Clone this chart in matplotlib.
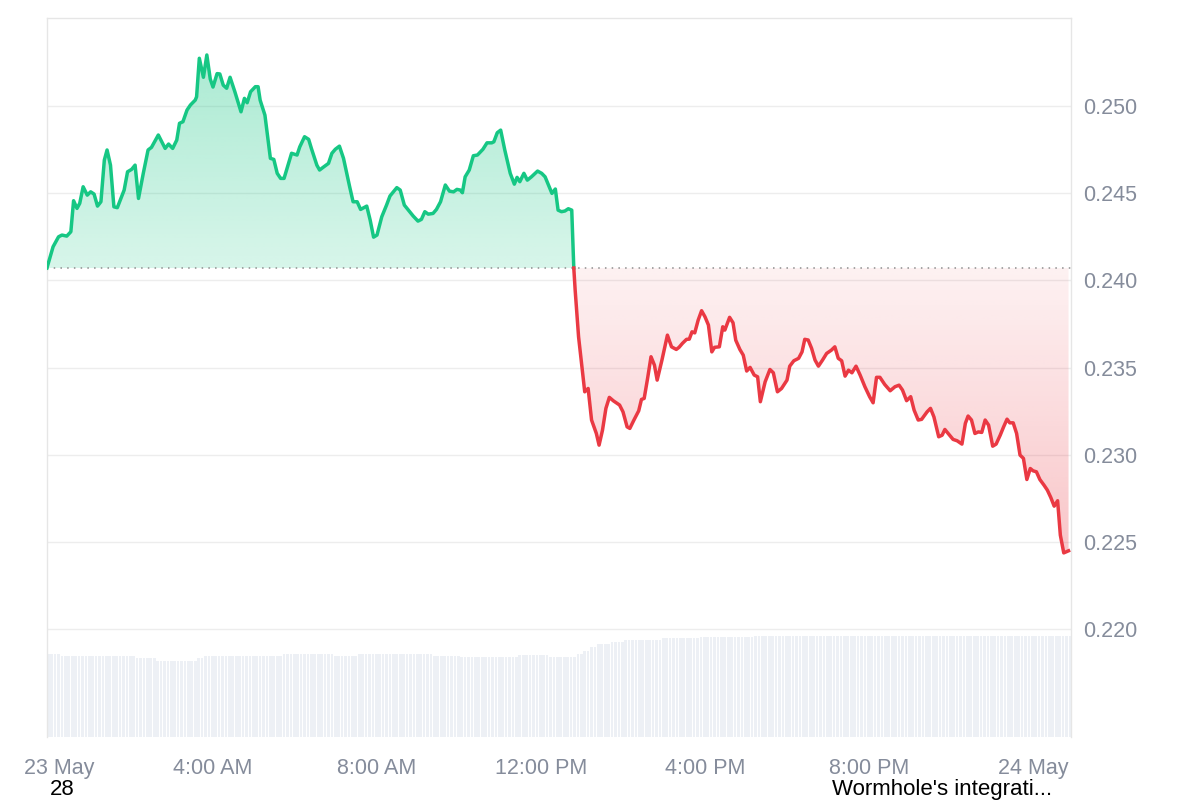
import numpy as np
import matplotlib
matplotlib.use("Agg")
import matplotlib.pyplot as plt
import matplotlib.colors as mcolors
from matplotlib.patches import Polygon
from matplotlib.transforms import ScaledTranslation

# minutes after 23 May 00:00
t_min = [-3, 6, 14, 19, 26, 32, 36, 41, 45, 50, 56, 61, 66, 71, 76, 81, 85, 90, 95, 100,
         110, 115, 121, 126, 131, 138, 145, 150, 160, 170, 175, 181, 187, 191, 196, 202, 207, 214, 216, 220,
         226, 231, 236, 240, 246, 250, 255, 260, 265, 272, 281, 286, 290, 295, 302, 306, 309, 316, 324, 329,
         334, 339, 344, 355, 363, 367, 374, 380, 384, 392, 396, 401, 409, 414, 419, 425, 431, 440, 445, 451,
         456, 465, 470, 475, 480, 487, 494, 499, 504, 509, 514, 520, 526, 533, 540, 545, 550, 555, 562, 567,
         573, 580, 586, 592, 597, 602, 605, 609, 615, 621, 627, 635, 641, 648, 651, 656, 661, 667, 675, 681,
         685, 689, 695, 700, 706, 715, 721, 726, 731, 736, 741, 745, 750, 755, 760, 765, 768,
         770, 775, 780, 784, 789, 794, 801, 805, 810, 815, 820, 826, 835, 840, 846, 850, 856, 863, 867, 871,
         876, 881, 886, 890, 897, 905, 911, 918, 922, 927, 933, 937, 941, 945, 950, 955, 960, 965, 970, 974,
         981, 986, 989, 996, 1001, 1005, 1011, 1016, 1021, 1026, 1032, 1037, 1041, 1048, 1055, 1060, 1066, 1072, 1080, 1084,
         1090, 1097, 1102, 1106, 1111, 1116, 1121, 1126, 1132, 1138, 1145, 1150, 1155, 1160, 1165, 1170, 1175, 1181, 1187, 1194,
         1201, 1206, 1211, 1216, 1223, 1231, 1238, 1244, 1249, 1255, 1261, 1266, 1272, 1277, 1285, 1290, 1295, 1302, 1307, 1311,
         1318, 1323, 1329, 1336, 1341, 1345, 1350, 1355, 1360, 1365, 1370, 1375, 1381, 1386, 1392, 1397, 1402, 1406, 1411, 1416,
         1421, 1426, 1431, 1436, 1440, 1445, 1450, 1456, 1461, 1466, 1471, 1476, 1480, 1485, 1492]

price = [0.24071, 0.24193, 0.24250, 0.24260, 0.24254, 0.24279, 0.24457, 0.24413, 0.24442, 0.24537,
         0.24489, 0.24508, 0.24495, 0.24426, 0.24451, 0.24690, 0.24748, 0.24661, 0.24422, 0.24417,
         0.24518, 0.24623, 0.24637, 0.24661, 0.24470, 0.24614, 0.24748, 0.24763, 0.24834, 0.24757,
         0.24782, 0.24757, 0.24805, 0.24901, 0.24910, 0.24977, 0.25006, 0.25034, 0.25053, 0.25274,
         0.25165, 0.25293, 0.25155, 0.25109, 0.25186, 0.25184, 0.25120, 0.25102, 0.25165, 0.25082,
         0.24967, 0.25044, 0.25019, 0.25082, 0.25111, 0.25111, 0.25034, 0.24948, 0.24700, 0.24694,
         0.24614, 0.24585, 0.24585, 0.24729, 0.24719, 0.24766, 0.24824, 0.24809, 0.24757, 0.24661,
         0.24633, 0.24648, 0.24671, 0.24729, 0.24752, 0.24770, 0.24700, 0.24537, 0.24451, 0.24451,
         0.24407, 0.24426, 0.24346, 0.24248, 0.24260, 0.24365, 0.24432, 0.24484, 0.24508, 0.24532,
         0.24518, 0.24432, 0.24403, 0.24369, 0.24340, 0.24350, 0.24394, 0.24380, 0.24384, 0.24407,
         0.24451, 0.24547, 0.24512, 0.24508, 0.24522, 0.24518, 0.24503, 0.24594, 0.24633, 0.24715,
         0.24719, 0.24752, 0.24789, 0.24789, 0.24795, 0.24847, 0.24862, 0.24748, 0.24614, 0.24552,
         0.24591, 0.24566, 0.24614, 0.24575, 0.24594, 0.24627, 0.24614, 0.24594, 0.24547, 0.24499,
         0.24524, 0.24403, 0.24394, 0.24398, 0.24411, 0.24403, 0.24071,
         0.23944, 0.23676, 0.23504, 0.23361, 0.23380, 0.23199, 0.23122, 0.23055, 0.23141, 0.23266,
         0.23329, 0.23309, 0.23285, 0.23246, 0.23160, 0.23151, 0.23199, 0.23252, 0.23317, 0.23323,
         0.23438, 0.23562, 0.23514, 0.23428, 0.23543, 0.23686, 0.23619, 0.23604, 0.23616, 0.23639,
         0.23662, 0.23663, 0.23705, 0.23699, 0.23772, 0.23826, 0.23791, 0.23744, 0.23590, 0.23616,
         0.23619, 0.23734, 0.23715, 0.23788, 0.23757, 0.23657, 0.23604, 0.23571, 0.23480, 0.23501,
         0.23457, 0.23447, 0.23304, 0.23418, 0.23489, 0.23470, 0.23361, 0.23380, 0.23428, 0.23508,
         0.23539, 0.23553, 0.23590, 0.23662, 0.23658, 0.23610, 0.23543, 0.23508, 0.23543, 0.23581,
         0.23600, 0.23619, 0.23553, 0.23539, 0.23451, 0.23485, 0.23470, 0.23508, 0.23457, 0.23390,
         0.23332, 0.23298, 0.23444, 0.23444, 0.23403, 0.23367, 0.23390, 0.23399, 0.23371, 0.23310,
         0.23333, 0.23256, 0.23199, 0.23203, 0.23246, 0.23266, 0.23217, 0.23103, 0.23112, 0.23145,
         0.23112, 0.23088, 0.23080, 0.23061, 0.23180, 0.23222, 0.23199, 0.23122, 0.23131, 0.23128,
         0.23199, 0.23170, 0.23049, 0.23061, 0.23112, 0.23160, 0.23204, 0.23183, 0.23183, 0.23122,
         0.22998, 0.22979, 0.22858, 0.22921, 0.22908, 0.22902, 0.22858, 0.22826, 0.22797, 0.22755,
         0.22705, 0.22736, 0.22539, 0.22437, 0.22449]

# volume (rolling, arbitrary units) read as steps: level until minute
vol_until = [14, 127, 158, 214, 228, 343, 416, 449, 560, 603, 685, 729, 771, 780, 792, 802,
             821, 840, 896, 953, 1030, 1500]
vol_level = [30.6, 30.0, 29.4, 28.2, 29.2, 30.0, 30.6, 30.0, 30.6, 30.0, 29.5, 30.2, 29.6, 30.6,
             31.8, 33.2, 34.5, 35.3, 35.8, 36.5, 36.9, 37.4]

tick_min = [0, 240, 480, 720, 960, 1200, 1440]
tick_lab = ["23 May", "4:00 AM", "8:00 AM", "12:00 PM", "4:00 PM", "8:00 PM", "24 May"]
price_ticks = [0.220, 0.225, 0.230, 0.235, 0.240, 0.245, 0.250]
notes = [(50, "28"), (832, "Wormhole's integrati...")]

green = "#16c784"
red = "#ea3943"
grey = "#858c9b"

plt.rcParams["font.family"] = ["Liberation Sans", "DejaVu Sans"]

t = np.array(t_min, dtype=float)
p = np.array(price)
base = p[0]
k = int(np.where(t == 768)[0][0])


def gradient_fill(ax, tt, pp, base, color, a_near, a_far):
    far = pp.max() if pp.max() > base else pp.min()
    verts = [(tt[0], base)] + list(zip(tt, pp)) + [(tt[-1], base)]
    poly = Polygon(verts, closed=True, facecolor="none", edgecolor="none")
    ax.add_patch(poly)
    z = np.zeros((200, 1, 4))
    z[:, :, :3] = mcolors.to_rgb(color)
    z[:, 0, 3] = np.linspace(a_near, a_far, 200)
    im = ax.imshow(z, aspect="auto", origin="lower", extent=[tt[0], tt[-1], base, far],
                   interpolation="bilinear", zorder=1)
    im.set_clip_path(poly)


fig = plt.figure(figsize=(12, 8), dpi=100)
ax = fig.add_axes([47/1200, 63/800, 1024/1200, 719/800])

# volume bars on a second scale, under the price
vx = ax.twinx()
bar_t = np.arange(-1, 1495, 5)
bar_v = np.array(vol_level)[np.searchsorted(vol_until, bar_t)]
vx.bar(bar_t, bar_v, width=3.9, color="#edf0f5", lw=0, zorder=0)
vx.set_ylim(0, 266)
vx.set_yticks([])
for s in vx.spines.values():
    s.set_visible(False)
ax.set_zorder(vx.get_zorder() + 1)
ax.patch.set_visible(False)

gradient_fill(ax, t[:k+1], p[:k+1], base, green, 0.17, 0.36)
gradient_fill(ax, t[k:], p[k:], base, red, 0.07, 0.29)

ax.plot(t[:k+1], p[:k+1], color=green, lw=2.5, solid_joinstyle="round", zorder=4)
ax.plot(t[k:], p[k:], color=red, lw=2.5, solid_joinstyle="round", zorder=4)
ax.axhline(base, color="#8d8d8d", lw=1.1, ls=(0, (1, 3.4)), zorder=3)

ax.set_xlim(-2.9, 1495.6)
vx.set_xlim(-2.9, 1495.6)
ax.set_ylim(0.21381, 0.25505)
ax.set_yticks(price_ticks)
ax.set_yticklabels(["%.3f" % v for v in price_ticks])
ax.yaxis.tick_right()
ax.set_xticks(tick_min)
ax.set_xticklabels(tick_lab)
ax.tick_params(axis="both", length=0, labelsize=15.5, labelcolor=grey)
ax.tick_params(axis="x", pad=15)
ax.tick_params(axis="y", pad=8.5, labelleft=False, labelright=True)
ax.grid(axis="y", color="#ededed", lw=1)
ax.set_axisbelow(True)
for s in ["top", "left", "right"]:
    ax.spines[s].set_color("#e6e6e6")
    ax.spines[s].set_linewidth(1)
ax.spines["bottom"].set_visible(False)

lab0 = ax.get_xticklabels()[0]
lab0.set_transform(lab0.get_transform() + ScaledTranslation(0.1, 0, fig.dpi_scale_trans))

for x, txt in notes:
    fig.text(x/1200, 5/800, txt, ha="left", va="baseline", fontsize=16, color="black")

plt.savefig("out.png", dpi=100, facecolor="white")
plt.close()
